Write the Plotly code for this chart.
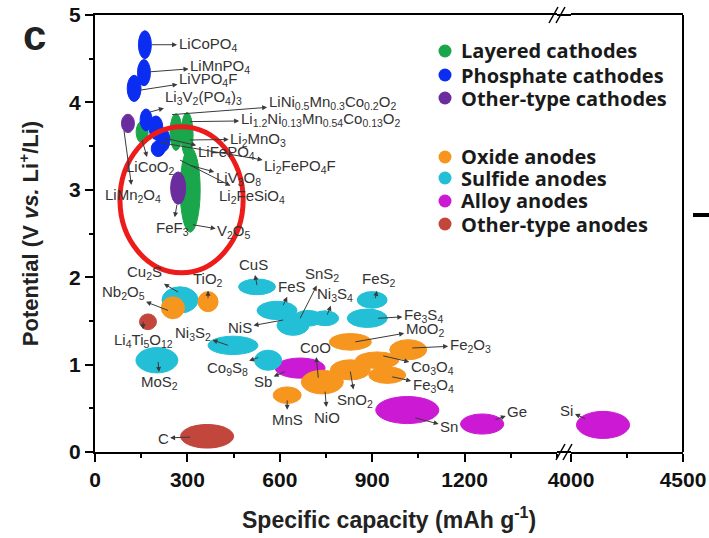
import plotly.graph_objects as go

# ---------------- data ----------------
categories = ["Layered cathodes", "Phosphate cathodes", "Other-type cathodes",
              "Oxide anodes", "Sulfide anodes", "Alloy anodes", "Other-type anodes"]
cat_colors = ["#1aa64b", "#0b2df2", "#6b2d9e", "#f6961f", "#22bfd6", "#cc1ad4", "#c2463c"]

# material regions: centre capacity (mAh/g), centre potential (V), capacity span, potential span
mat_name = ["LiCoO2", "NMC532", "Li2MnO3", "V2O5",
            "LiCoPO4", "LiMnPO4", "LiVPO4F", "Li3V2(PO4)3", "LiFePO4", "Li2FePO4F", "LiFePO4b",
            "LiMn2O4", "FeF3",
            "Sb", "Sn", "Ge", "Si",
            "Cu2S", "MoS2", "CuS", "Ni3S2", "FeS", "NiS", "SnS2", "Ni3S4", "FeS2", "Fe3S4", "Co9S8",
            "Nb2O5", "TiO2", "MnS", "MoO2", "Fe2O3", "Co3O4", "Fe3O4", "SnO2", "NiO",
            "Li4Ti5O12", "C"]
mat_cat = [0, 0, 0, 0,
           1, 1, 1, 1, 1, 1, 1,
           2, 2,
           5, 5, 5, 5,
           4, 4, 4, 4, 4, 4, 4, 4, 4, 4, 4,
           3, 3, 3, 3, 3, 3, 3, 3, 3,
           6, 6]
mat_cap = [153, 263, 299, 309,
           162, 159, 127, 166, 198, 221, 205,
           107, 270,
           666, 1014, 1257, 4143,
           276, 201, 526, 448, 591, 643, 692, 747, 900, 884, 562,
           253, 367, 624, 829, 1017, 916, 949, 829, 738,
           172, 364]
mat_pot = [3.66, 3.66, 3.63, 3.00,
           4.66, 4.34, 4.16, 3.80, 3.71, 3.57, 3.47,
           3.76, 3.02,
           0.96, 0.48, 0.32, 0.31,
           1.74, 1.05, 1.89, 1.22, 1.62, 1.45, 1.53, 1.53, 1.74, 1.53, 1.05,
           1.65, 1.72, 0.65, 1.26, 1.17, 1.05, 0.88, 0.94, 0.80,
           1.49, 0.18]
mat_dcap = [39, 39, 39, 65,
            42, 42, 45, 39, 45, 45, 45,
            42, 49,
            162, 205, 140, 237,
            117, 136, 120, 162, 130, 104, 97, 88, 97, 130, 88,
            75, 65, 91, 136, 120, 140, 120, 130, 136,
            55, 172]
mat_dpot = [0.25, 0.42, 0.51, 0.97,
            0.32, 0.30, 0.30, 0.25, 0.27, 0.27, 0.18,
            0.21, 0.37,
            0.23, 0.31, 0.23, 0.31,
            0.30, 0.29, 0.18, 0.21, 0.21, 0.23, 0.18, 0.17, 0.19, 0.21, 0.23,
            0.25, 0.23, 0.19, 0.19, 0.23, 0.19, 0.19, 0.23, 0.27,
            0.18, 0.27]

# labels: text, arrow tail (capacity, potential), label position (capacity, potential)
lab_text = ["LiCoPO<sub>4</sub>", "LiMnPO<sub>4</sub>", "LiVPO<sub>4</sub>F",
            "Li<sub>3</sub>V<sub>2</sub>(PO<sub>4</sub>)<sub>3</sub>",
            "LiNi<sub>0.5</sub>Mn<sub>0.3</sub>Co<sub>0.2</sub>O<sub>2</sub>",
            "Li<sub>1.2</sub>Ni<sub>0.13</sub>Mn<sub>0.54</sub>Co<sub>0.13</sub>O<sub>2</sub>",
            "Li<sub>2</sub>MnO<sub>3</sub>", "LiFePO<sub>4</sub>", "Li<sub>2</sub>FePO<sub>4</sub>F",
            "LiCoO<sub>2</sub>", "LiV<sub>3</sub>O<sub>8</sub>", "LiMn<sub>2</sub>O<sub>4</sub>",
            "Li<sub>2</sub>FeSiO<sub>4</sub>", "FeF<sub>3</sub>", "V<sub>2</sub>O<sub>5</sub>",
            "Cu<sub>2</sub>S", "Nb<sub>2</sub>O<sub>5</sub>", "TiO<sub>2</sub>",
            "Li<sub>4</sub>Ti<sub>5</sub>O<sub>12</sub>", "MoS<sub>2</sub>", "Ni<sub>3</sub>S<sub>2</sub>",
            "NiS", "CuS", "FeS", "SnS<sub>2</sub>", "Ni<sub>3</sub>S<sub>4</sub>", "FeS<sub>2</sub>",
            "Fe<sub>3</sub>S<sub>4</sub>", "MoO<sub>2</sub>", "Fe<sub>2</sub>O<sub>3</sub>",
            "Co<sub>3</sub>O<sub>4</sub>", "Fe<sub>3</sub>O<sub>4</sub>", "SnO<sub>2</sub>", "CoO", "NiO",
            "MnS", "Sb", "Co<sub>9</sub>S<sub>8</sub>", "C", "Sn", "Ge", "Si"]
lab_tail_cap = [185, 179, 146, 179, 250, 309, 309, 227, 211, 153, 309, 94, 276, 266, 318,
                270, 237, 367, 156, 205, 432, 611, 526, 611, 666, 754, 910, 919, 845, 1030,
                936, 965, 829, 725, 747, 624, 617, 530, 309, 1040, 1300, 4063]
lab_tail_pot = [4.66, 4.35, 4.14, 3.89, 3.86, 3.78, 3.57, 3.59, 3.54, 3.57, 3.28, 3.68, 3.34, 2.83, 2.60,
                1.83, 1.62, 1.76, 1.49, 1.03, 1.22, 1.51, 1.91, 1.68, 1.53, 1.57, 1.76, 1.53, 1.26, 1.19,
                1.10, 0.86, 0.92, 0.85, 0.69, 0.59, 0.92, 1.08, 0.17, 0.39, 0.37, 0.38]
lab_cap = [367, 406, 367, 351, 770, 731, 530, 426, 666, 179, 465, 123, 510, 253, 452,
           162, 91, 367, 156, 211, 318, 471, 513, 640, 738, 780, 923, 1066, 1072, 1218,
           1095, 1098, 845, 715, 754, 624, 546, 429, 221, 1150, 1371, 3982]
lab_pot = [4.66, 4.41, 4.26, 4.06, 4.00, 3.80, 3.58, 3.43, 3.27, 3.25, 3.13, 2.93, 2.92, 2.56, 2.52,
           2.05, 1.82, 1.97, 1.28, 0.79, 1.36, 1.42, 2.14, 1.89, 2.03, 1.80, 1.97, 1.56, 1.40, 1.22,
           0.97, 0.76, 0.59, 1.20, 0.40, 0.37, 0.81, 0.96, 0.16, 0.29, 0.46, 0.48]

x_ticks_left = [0, 300, 600, 900, 1200]
x_ticks_right = [4000, 4500]
y_ticks = [0, 1, 2, 3, 4, 5]

# ---------------- layout geometry ----------------
L, R, T, B = 95, 683, 15, 452
W, H = 709, 538
PW, PH = R - L, B - T


def px(xp):
    return (xp - L) / PW


def py(yp):
    return (B - yp) / PH


dom1 = [0, px(557)]
dom2 = [px(571), 1]
BREAK_AXIS = 4000

fig = go.Figure()

# legend (drawn inside the plot on an invisible overlay axis)
leg_x = [px(445)] * 7
leg_y = [py(v) for v in (51, 75, 98, 157, 178, 201, 224)]
fig.add_trace(go.Scatter(
    x=leg_x, y=leg_y, mode="markers", showlegend=False, hoverinfo="skip",
    marker=dict(color=cat_colors, size=13, symbol="circle", line=dict(width=0)),
    xaxis="x3", yaxis="y3", cliponaxis=False))

shapes = []
for n, ci, xc, yc, dx, dy in zip(mat_name, mat_cat, mat_cap, mat_pot, mat_dcap, mat_dpot):
    xr = "x2" if xc >= BREAK_AXIS else "x"
    shapes.append(dict(type="circle", xref=xr, yref="y",
                       x0=xc - dx / 2, x1=xc + dx / 2, y0=yc - dy / 2, y1=yc + dy / 2,
                       fillcolor=cat_colors[ci], line=dict(color=cat_colors[ci], width=1),
                       layer="above"))

# red highlight ellipse around cathode cluster
shapes.append(dict(type="circle", xref="x", yref="y", x0=81, x1=481, y0=2.05, y1=3.72,
                   line=dict(color="#ee1b1b", width=5), fillcolor="rgba(0,0,0,0)"))

# frame pieces: gap on axis lines, right border, break marks
lw = 2
shapes += [
    dict(type="line", xref="paper", yref="paper", x0=dom1[1], x1=dom2[0], y0=0, y1=0, line=dict(color="black", width=lw)),
    dict(type="line", xref="paper", yref="paper", x0=dom1[1], x1=dom2[0], y0=1, y1=1, line=dict(color="black", width=lw)),
    dict(type="line", xref="paper", yref="paper", x0=1, x1=1, y0=0, y1=1, line=dict(color="black", width=lw)),
]
for (xb, yc0) in ((556, B), (549, T)):
    for off in (0, 7):
        shapes.append(dict(type="line", xref="paper", yref="paper",
                           x0=px(xb + off), x1=px(xb + 9 + off), y0=py(yc0 + 8), y1=py(yc0 - 8),
                           line=dict(color="black", width=1.5)))
# neighbouring panel fragment at the right edge
shapes.append(dict(type="line", xref="paper", yref="paper", x0=px(693), x1=px(709),
                   y0=py(215), y1=py(215), line=dict(color="black", width=4)))

annotations = []
for t, tx, ty, lx, ly in zip(lab_text, lab_tail_cap, lab_tail_pot, lab_cap, lab_pot):
    xr = "x2" if tx >= BREAK_AXIS else "x"
    annotations.append(dict(
        x=tx, y=ty, xref=xr, yref="y", ax=lx, ay=ly, axref=xr, ayref="y",
        text=t, showarrow=True, arrowside="start", startarrowhead=2, startarrowsize=1,
        arrowwidth=1, arrowcolor="#3a3a3a", startstandoff=0,
        font=dict(family="Liberation Sans, Arial", size=15, color="#333333")))

# legend texts
for c, yy in zip(categories, leg_y):
    annotations.append(dict(text=c, xref="paper", yref="paper", x=px(459), y=yy,
                            xanchor="left", yanchor="middle", showarrow=False,
                            font=dict(family="Open Sans", size=20, color="#1a1a1a", weight="bold")))

# panel letter
annotations.append(dict(text="c", xref="paper", yref="paper", x=px(34), y=py(36),
                        xanchor="center", yanchor="middle", showarrow=False,
                        font=dict(family="Liberation Sans, Arial", size=42,
                                  color="#222222", weight="bold")))

titlefont = dict(family="Liberation Sans, Arial", size=23, color="#222222", weight="bold")
# x-axis title centred under the whole broken axis
annotations.append(dict(text="Specific capacity (mAh g<sup>-1</sup>)", xref="paper", yref="paper",
                        x=0.5, y=py(518), xanchor="center", yanchor="middle", showarrow=False,
                        font=titlefont))

tickfont = dict(family="Liberation Sans, Arial", size=21, color="#111111", weight="bold")

axis_common = dict(showline=True, linecolor="black", linewidth=lw, ticks="outside",
                   ticklen=8, tickwidth=2, tickcolor="black", showgrid=False, zeroline=False,
                   tickfont=tickfont, mirror=True)

fig.update_layout(
    width=W, height=H,
    margin=dict(l=L, r=W - R, t=T, b=H - B, autoexpand=False),
    plot_bgcolor="rgba(0,0,0,0)", paper_bgcolor="white",
    xaxis=dict(domain=dom1, range=[0, 1500], tickvals=x_ticks_left,
               minor=dict(dtick=150, ticklen=4, tickwidth=2, ticks="outside", tickcolor="black"),
               anchor="y", **axis_common),
    xaxis2=dict(domain=dom2, range=[4000, 4500], tickvals=x_ticks_right,
                minor=dict(tickvals=[4250], ticklen=4, tickwidth=2, ticks="outside", tickcolor="black"),
                anchor="y", **axis_common),
    yaxis=dict(range=[0, 5], tickvals=y_ticks, anchor="x",
               minor=dict(dtick=0.5, ticklen=4, tickwidth=2, ticks="outside", tickcolor="black"),
               title=dict(text="Potential (V <i>vs.</i> Li<sup>+</sup>/Li)",
                          font=dict(family="Liberation Sans, Arial", size=22, color="#222222",
                                    weight="bold"), standoff=24),
               showline=True, linecolor="black", linewidth=lw, ticks="outside",
               ticklen=8, tickwidth=2, tickcolor="black", showgrid=False, zeroline=False,
               tickfont=tickfont, mirror=False),
    xaxis3=dict(domain=[0, 1], range=[0, 1], visible=False, anchor="y3", fixedrange=True),
    yaxis3=dict(domain=[0, 1], range=[0, 1], visible=False, anchor="x3", fixedrange=True),
    showlegend=False,
    shapes=shapes, annotations=annotations,
)

fig.write_html("out.html")
